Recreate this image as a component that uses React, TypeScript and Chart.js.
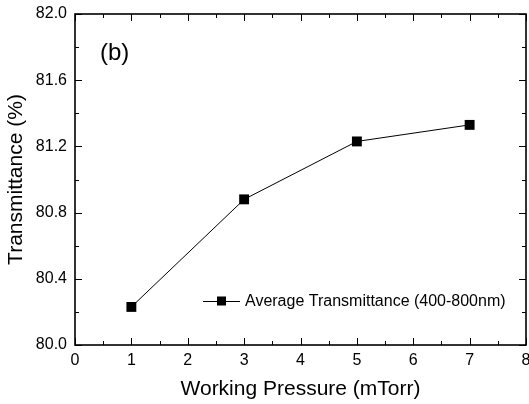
import React, { useEffect, useRef } from "react";
import { Chart, registerables } from "chart.js";

Chart.register(...registerables);

const pressures = [1, 3, 5, 7];
const transmittance = [80.23, 80.88, 81.23, 81.33];
const seriesLabel = "Average Transmittance (400-800nm)";
const panelLabel = "(b)";
const xTitle = "Working Pressure (mTorr)";
const yTitle = "Transmittance (%)";
const X_MIN = 0, X_MAX = 8, X_STEP = 1;
const Y_MIN = 80, Y_MAX = 82, Y_STEP = 0.4;

const FONT = "'Liberation Sans', Arial, Helvetica, sans-serif";

const framePlugin = {
  id: "frame",
  beforeDatasetsDraw(chart: any) {
    const { ctx, chartArea, scales } = chart;
    const { left, right, top, bottom } = chartArea;
    const xs = scales.x, ys = scales.y;
    ctx.save();
    ctx.strokeStyle = "#000";
    ctx.lineWidth = 1;
    const n = Math.round((X_MAX - X_MIN) / (X_STEP / 2));
    for (let i = 0; i <= n; i++) {
      const v = X_MIN + (i * X_STEP) / 2;
      const px = Math.round(xs.getPixelForValue(v)) + 0.5;
      const len = i % 2 === 0 ? 7 : 4;
      ctx.beginPath();
      ctx.moveTo(px, bottom); ctx.lineTo(px, bottom - len);
      ctx.moveTo(px, top); ctx.lineTo(px, top + len);
      ctx.stroke();
    }
    const m = Math.round((Y_MAX - Y_MIN) / (Y_STEP / 2));
    for (let i = 0; i <= m; i++) {
      const v = Y_MIN + (i * Y_STEP) / 2;
      const py = Math.round(ys.getPixelForValue(v)) + 0.5;
      const len = i % 2 === 0 ? 7 : 4;
      ctx.beginPath();
      ctx.moveTo(left, py); ctx.lineTo(left + len, py);
      ctx.moveTo(right, py); ctx.lineTo(right - len, py);
      ctx.stroke();
    }
    ctx.lineWidth = 1.6;
    ctx.strokeRect(left, top, right - left, bottom - top);
    ctx.restore();
  },
  afterDraw(chart: any) {
    const { ctx } = chart;
    ctx.save();
    ctx.fillStyle = "#000";
    ctx.font = `24px ${FONT}`;
    ctx.textBaseline = "middle";
    ctx.textAlign = "left";
    ctx.fillText(panelLabel, 100, 53);
    const lx = 203, ly = 301;
    ctx.strokeStyle = "#000";
    ctx.lineWidth = 1;
    ctx.beginPath();
    ctx.moveTo(lx, ly + 0.5); ctx.lineTo(lx + 37, ly + 0.5);
    ctx.stroke();
    ctx.fillRect(lx + 14, ly - 4.5, 9, 9);
    ctx.font = `16px ${FONT}`;
    ctx.fillText(chart.data.datasets[0].label, lx + 42, ly + 1);
    ctx.restore();
  },
};

export default function App() {
  const ref = useRef<HTMLCanvasElement>(null);
  useEffect(() => {
    if (!ref.current) return;
    const chart = new Chart(ref.current, {
      type: "line",
      data: {
        datasets: [
          {
            label: seriesLabel,
            data: pressures.map((p, i) => ({ x: p, y: transmittance[i] })),
            borderColor: "#000",
            borderWidth: 1,
            backgroundColor: "#000",
            pointStyle: "rect",
            pointRadius: 7,
            pointBorderWidth: 0,
            pointBackgroundColor: "#000",
            tension: 0,
          },
        ],
      },
      options: {
        animation: false,
        responsive: false,
        layout: { autoPadding: false, padding: { top: 14, right: 3, left: 0, bottom: 0 } },
        plugins: { legend: { display: false }, tooltip: { enabled: false } },
        scales: {
          x: {
            type: "linear",
            min: X_MIN,
            max: X_MAX,
            grid: { display: false, drawTicks: false },
            border: { display: false },
            ticks: {
              stepSize: X_STEP,
              padding: 6,
              color: "#000",
              maxRotation: 0,
              font: { family: FONT, size: 16 },
            },
            title: {
              display: true,
              text: xTitle,
              color: "#000",
              font: { family: FONT, size: 21 },
              padding: { top: 0, bottom: 2 },
            },
            afterFit: (s: any) => {
              s.height = 59;
              s.paddingLeft = 0;
              s.paddingRight = 0;
            },
          },
          y: {
            type: "linear",
            min: Y_MIN,
            max: Y_MAX,
            grid: { display: false, drawTicks: false },
            border: { display: false },
            ticks: {
              stepSize: Y_STEP,
              padding: 8,
              color: "#000",
              font: { family: FONT, size: 16 },
              callback: (v: any) => Number(v).toFixed(1),
            },
            title: {
              display: true,
              text: yTitle,
              color: "#000",
              font: { family: FONT, size: 21 },
              padding: { top: 4, bottom: 0 },
            },
            afterFit: (s: any) => {
              s.width = 75;
              s.paddingTop = 0;
              s.paddingBottom = 0;
            },
          },
        },
      },
      plugins: [framePlugin],
    });
    return () => chart.destroy();
  }, []);
  return (
    <div style={{ position: "absolute", left: 0, top: 0, width: 529, height: 404, background: "#fff" }}>
      <canvas ref={ref} width={529} height={404} />
    </div>
  );
}
